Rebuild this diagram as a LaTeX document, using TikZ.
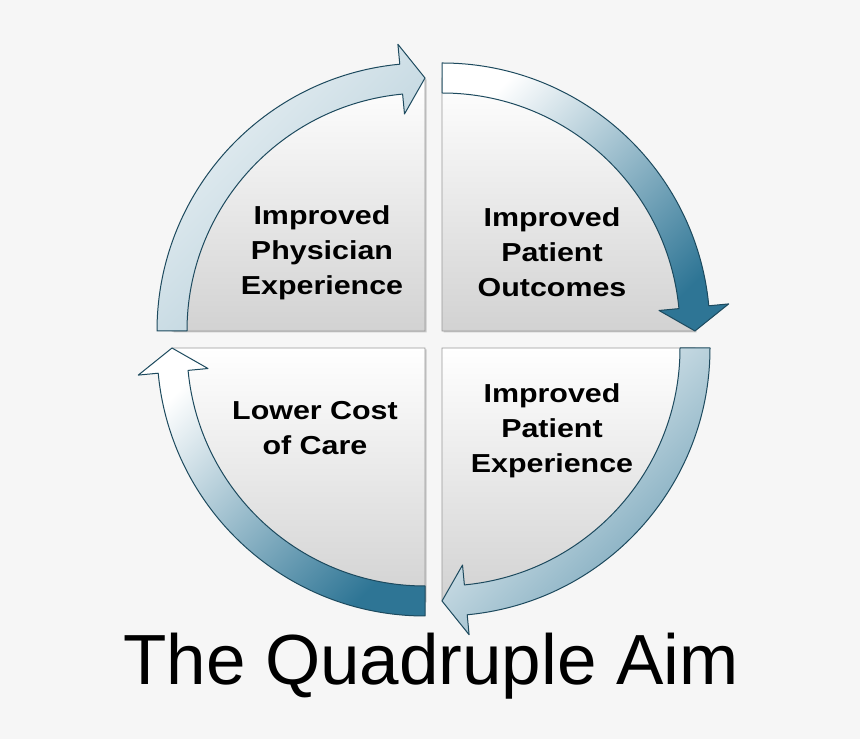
\documentclass[tikz,border=0pt]{standalone}
\usepackage{fontspec}
\setmainfont{Liberation Sans}
\newfontfamily\labelfont[FakeStretch=1.17]{Liberation Sans}
\usepackage{xcolor}
\definecolor{cBack}{HTML}{F6F6F6}
\definecolor{cArrow}{HTML}{2E7595}
\definecolor{cLine}{HTML}{1D4A5E}
\definecolor{cEdge}{HTML}{989898}
\definecolor{cQuad}{HTML}{D2D2D2}
\usepackage{tikz}
\usetikzlibrary{calc,shadows}
\tikzset{
  quad-fill/.style={draw=cEdge,line width=0.8pt,top color=white,bottom color=cQuad,
    drop shadow={shadow xshift=1.5pt,shadow yshift=-1.5pt,opacity=0.3,fill=black!60}},
  aim-arrow/.style={draw=cLine,line width=1pt,line join=round},
  aim-label/.style={align=center,inner sep=0pt,
    font=\labelfont\fontsize{26}{35}\selectfont\bfseries},
  aim-title/.style={inner sep=0pt,anchor=base,font=\fontsize{71}{80}\selectfont},
}

\begin{document}
\begin{tikzpicture}[x=1pt,y=1pt]
  \fill[cBack] (0,0) rectangle (860,739);
  \useasboundingbox (0,0) rectangle (860,739);
  % quadrant centres
  \coordinate (cTL) at (425,408);
  \coordinate (cTR) at (442,408);
  \coordinate (cBR) at (442,391);
  \coordinate (cBL) at (425,391);
  % the four quadrants
  \foreach \c/\a in {cTL/90,cTR/0,cBR/270,cBL/180}
    \path[quad-fill] (\c) -- ($(\c)+(\a:253)$)
      arc[start angle=\a,delta angle=90,radius=253pt] -- cycle;
  % curved arrows, clockwise
  \foreach \c/\a/\lo/\mi/\hi in {cTL/90/cArrow!10/cArrow!20/cArrow!38,
      cTR/0/white/cArrow!35/cArrow, cBR/270/white/cArrow!25/cArrow!70,
      cBL/180/white/cArrow!40/cArrow}
    \path[aim-arrow,top color=\lo,middle color=\mi,bottom color=\hi,shading angle=45]
      ($(\c)+(\a+90:268)$) arc[start angle=\a+90,end angle=\a+5.4,radius=268pt]
      -- ($(\c)+(\a+5.4:288)$) -- ($(\c)+(\a:253)$) -- ($(\c)+(\a+5.4:218)$)
      -- ($(\c)+(\a+5.4:238)$) arc[start angle=\a+5.4,end angle=\a+90,radius=238pt]
      -- cycle;
  \node[aim-label] (phys) at (322,486) {Improved\\Physician\\Experience};
  \node[aim-label] (outc) at (552,487) {Improved\\Patient\\Outcomes};
  \node[aim-label] (pexp) at (552,308) {Improved\\Patient\\Experience};
  \node[aim-label] (cost) at (315,311) {Lower Cost\\of Care};
  \node[aim-title] (title) at (431,54) {The Quadruple Aim};
\end{tikzpicture}
\end{document}
